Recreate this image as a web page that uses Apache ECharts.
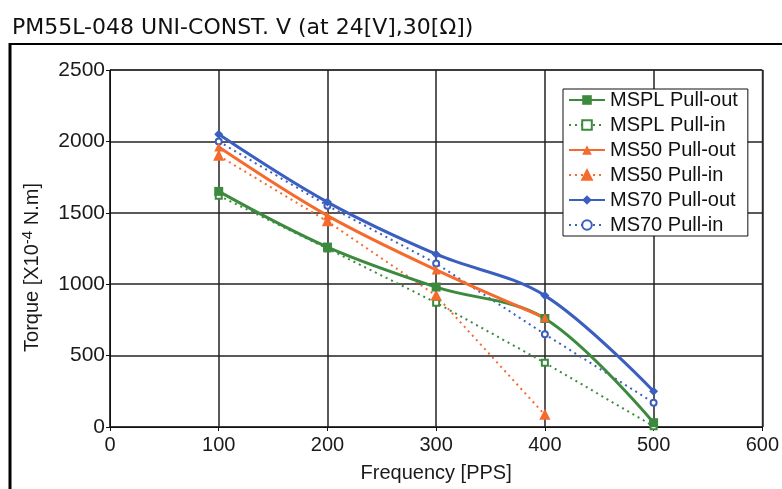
<!DOCTYPE html>
<html>
<head>
<meta charset="utf-8">
<script src="https://cdn.jsdelivr.net/npm/echarts@6/dist/echarts.min.js"></script>
<style>
  html, body { margin: 0; padding: 0; background: #fff; }
  #chart { width: 782px; height: 489px; }
</style>
</head>
<body>
<div id="chart"></div>
<script>
// x轴数据 (PPS)
const freq = [100, 200, 300, 400, 500]
// y轴数据 Torque [X10^-4 N.m]
const msplOut = [1650, 1260, 980, 760, 30]
const msplIn = [1620, 1250, 870, 450, 5]
const ms50Out = [1960, 1480, 1100, 765, null]
const ms50In = [1900, 1440, 920, 85, null]
const ms70Out = [2050, 1575, 1210, 920, 250]
const ms70In = [2000, 1550, 1145, 650, 170]
const seriesNames = ['MSPL Pull-out', 'MSPL Pull-in', 'MS50 Pull-out', 'MS50 Pull-in', 'MS70 Pull-out', 'MS70 Pull-in']

const green = '#3b8a3e'
const orange = '#f56b2d'
const blue = '#3a5fc0'

function pairs(vals) {
  return freq.map((f, i) => [f, vals[i]]).filter(p => p[1] !== null)
}

function outSeries(name, vals, color, symbol, size) {
  return {
    name: name,
    type: 'line',
    data: pairs(vals),
    smooth: 0.35,
    symbol: symbol,
    symbolSize: size,
    lineStyle: { color: color, width: 3 },
    itemStyle: { color: color },
    z: 3
  }
}
function inSeries(name, vals, color, symbol, size) {
  return {
    name: name,
    type: 'line',
    data: pairs(vals),
    symbol: symbol,
    symbolSize: size,
    lineStyle: { color: color, width: 2, type: [2, 4] },
    itemStyle: { color: color, borderColor: color, borderWidth: 2 },
    z: 2
  }
}

const chart = echarts.init(document.getElementById('chart'))
const axisFont = { color: '#1a1a1a', fontSize: 20, fontFamily: 'Liberation Sans' }

chart.setOption({
  animation: false,
  grid: {
    left: 110, right: 17, top: 70, bottom: 62,
    show: true, borderColor: '#111', borderWidth: 1
  },
  graphic: [
    // 外框
    { type: 'line', shape: { x1: 9, y1: 44, x2: 782, y2: 44 }, style: { stroke: '#000', lineWidth: 2 } },
    { type: 'line', shape: { x1: 10, y1: 43, x2: 10, y2: 489 }, style: { stroke: '#000', lineWidth: 3 } },
    {
      type: 'text', left: 12, top: 17,
      style: { text: 'PM55L-048 UNI-CONST. V (at 24[V],30[Ω])', fontSize: 22, fontFamily: 'DejaVu Sans', fill: '#111' }
    }
  ],
  legend: {
    orient: 'vertical',
    left: 563, top: 89,
    data: seriesNames,
    itemWidth: 36, itemHeight: 12, itemGap: 5,
    padding: [1, 10, 1, 5],
    backgroundColor: '#fff',
    borderColor: '#111', borderWidth: 1,
    textStyle: { color: '#111', fontSize: 20, lineHeight: 20, fontFamily: 'Liberation Sans' }
  },
  xAxis: {
    type: 'value', min: 0, max: 600, interval: 100,
    name: 'Frequency [PPS]', nameLocation: 'middle', nameGap: 36,
    nameTextStyle: axisFont,
    axisLine: { lineStyle: { color: '#111' } },
    axisTick: { show: true, length: 4, lineStyle: { color: '#111' } },
    axisLabel: Object.assign({ margin: 8 }, axisFont),
    splitLine: { lineStyle: { color: '#222', width: 1.5 } }
  },
  yAxis: {
    type: 'value', min: 0, max: 2500, interval: 500,
    name: 'Torque [X10{sup|-4} N.m]', nameLocation: 'middle', nameGap: 66, nameRotate: 90,
    nameTextStyle: Object.assign({
      padding: [0, 38, 0, 0],
      lineHeight: 24,
      rich: { sup: { fontSize: 15, fontFamily: 'Liberation Sans', color: '#1a1a1a', verticalAlign: 'top', lineHeight: 24 } }
    }, axisFont),
    axisLine: { show: true, lineStyle: { color: '#111' } },
    axisTick: { show: true, length: 4, lineStyle: { color: '#111' } },
    axisLabel: Object.assign({ margin: 5, formatter: v => String(v) }, axisFont, { fontSize: 21 }),
    splitLine: { lineStyle: { color: '#222', width: 1.5 } }
  },
  series: [
    outSeries(seriesNames[0], msplOut, green, 'rect', 9),
    inSeries(seriesNames[1], msplIn, green, 'emptyRect', 6),
    outSeries(seriesNames[2], ms50Out, orange, 'triangle', 9),
    inSeries(seriesNames[3], ms50In, orange, 'triangle', 8),
    outSeries(seriesNames[4], ms70Out, blue, 'diamond', 9),
    inSeries(seriesNames[5], ms70In, blue, 'emptyCircle', 6)
  ]
})
</script>
</body>
</html>
